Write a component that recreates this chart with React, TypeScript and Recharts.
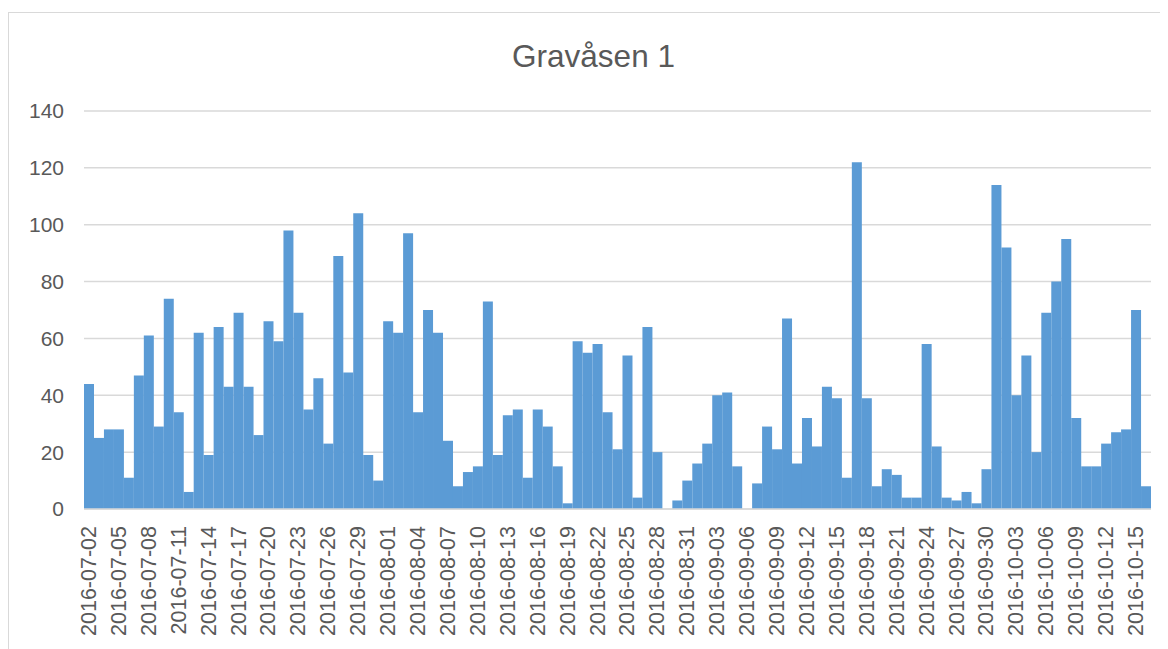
import React from "react";
import { BarChart, Bar, XAxis, YAxis, CartesianGrid } from "recharts";

const startDate = "2016-07-02";
const values: number[] = [
  44, 25, 28, 28, 11, 47, 61, 29, 74, 34, 6, 62, 19, 64, 43, 69, 43, 26, 66, 59,
  98, 69, 35, 46, 23, 89, 48, 104, 19, 10,
  66, 62, 97, 34, 70, 62, 24, 8, 13, 15, 73, 19, 33, 35, 11, 35, 29, 15, 2, 59,
  55, 58, 34, 21, 54, 4, 64, 20, 0, 3, 10,
  16, 23, 40, 41, 15, 0, 9, 29, 21, 67, 16, 32, 22, 43, 39, 11, 122, 39, 8,
  14, 12, 4, 4, 58, 22, 4, 3, 6, 2, 14,
  114, 92, 40, 54, 20, 69, 80, 95, 32, 15, 15, 23, 27, 28, 70, 8,
];
const yTicks = [0, 20, 40, 60, 80, 100, 120, 140];
const title = "Gravåsen 1";

function buildDates(start: string, n: number): string[] {
  const out: string[] = [];
  const d = new Date(start + "T00:00:00Z");
  for (let i = 0; i < n; i++) {
    const c = new Date(d.getTime() + i * 86400000);
    out.push(c.toISOString().slice(0, 10));
  }
  return out;
}

const dates = buildDates(startDate, values.length);
const data = dates.map((date, i) => ({ date, value: values[i] }));

const FONT = "'Liberation Sans', Arial, sans-serif";
const TEXT = "#595959";

const XTick = (props: any) => {
  const { x, y, payload } = props;
  return (
    <text
      transform={`translate(${x},${y + 9}) rotate(-90)`}
      textAnchor="end"
      dominantBaseline="central"
      fill={TEXT}
      fontSize={21.5}
      fontFamily={FONT}
    >
      {payload.value}
    </text>
  );
};

export default function App() {
  return (
    <div style={{ position: "relative", width: 1160, height: 641 }}>
      <div
        style={{
          position: "absolute",
          left: 0,
          top: 4,
          width: 1160,
          height: 637,
          borderTop: "1px solid #d9d9d9",
          borderLeft: "1px solid #d9d9d9",
          boxSizing: "border-box",
        }}
      />
      <div
        style={{
          position: "absolute",
          left: 0,
          top: 30,
          width: 1171,
          textAlign: "center",
          fontFamily: FONT,
          fontSize: 31.5,
          color: TEXT,
        }}
      >
        {title}
      </div>
      <div style={{ position: "absolute", left: 0, top: 0 }}>
        <BarChart
          width={1160}
          height={641}
          data={data}
          margin={{ top: 103, right: 17, bottom: 0, left: 0 }}
          barCategoryGap={0}
        >
          <CartesianGrid vertical={false} stroke="#d9d9d9" strokeWidth={1.5} />
          <XAxis
            dataKey="date"
            interval={2}
            tickLine={false}
            axisLine={{ stroke: "#d9d9d9", strokeWidth: 1.5 }}
            height={140}
            tick={<XTick />}
          />
          <YAxis
            width={76}
            domain={[0, 140]}
            ticks={yTicks}
            axisLine={false}
            tickLine={false}
            tickMargin={14}
            tick={{ fill: TEXT, fontSize: 21, fontFamily: FONT }}
          />
          <Bar dataKey="value" fill="#5b9bd5" isAnimationActive={false} />
        </BarChart>
      </div>
    </div>
  );
}
